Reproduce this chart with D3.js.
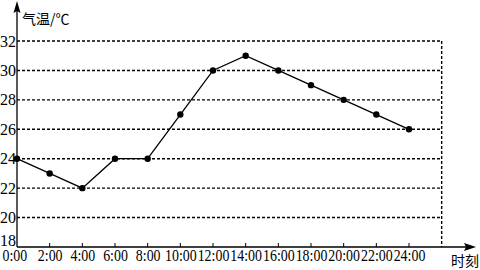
<!DOCTYPE html>
<html>
<head>
<meta charset="utf-8">
<script src="https://cdnjs.cloudflare.com/ajax/libs/d3/7.8.5/d3.min.js"></script>
<style>
  body { margin: 0; background: #fff; }
  svg { display: block; }
</style>
</head>
<body>
<div id="chart"></div>
<script>
var width = 480;
var height = 270;

// hours of the day and temperature readings
var hours = [0, 2, 4, 6, 8, 10, 12, 14, 16, 18, 20, 22, 24];
var temps = [24, 23, 22, 24, 24, 27, 30, 31, 30, 29, 28, 27, 26];
var xTickLabels = ["0:00", "2:00", "4:00", "6:00", "8:00", "10:00", "12:00", "14:00", "16:00", "18:00", "20:00", "22:00", "24:00"];
var yTicks = [18, 20, 22, 24, 26, 28, 30, 32];

var serif = "'Liberation Serif', 'Times New Roman', 'DejaVu Serif', serif";

var svg = d3.select("#chart")
    .append("svg")
    .attr("width", width)
    .attr("height", height);

var x = d3.scaleLinear().domain([0, 24]).range([17, 409]);
var y = d3.scaleLinear().domain([18, 32]).range([247, 41]);

/***** Grid lines *****/
var grid = svg.append("g");
grid.selectAll("line.h")
  .data(yTicks.slice(1))
  .enter().append("line")
    .attr("class", "h")
    .attr("x1", x(0))
    .attr("x2", x(26))
    .attr("y1", d => y(d))
    .attr("y2", d => y(d))
    .attr("stroke", "#000")
    .attr("stroke-width", 1.4)
    .attr("stroke-dasharray", "3,2");

grid.append("line")
    .attr("x1", x(26)).attr("x2", x(26))
    .attr("y1", y(32)).attr("y2", y(18))
    .attr("stroke", "#000")
    .attr("stroke-width", 1.4)
    .attr("stroke-dasharray", "3,2");

/***** Axes *****/
var xAxis = d3.axisBottom(x)
    .tickValues(hours)
    .tickFormat((d, i) => xTickLabels[i])
    .tickSize(0)
    .tickPadding(3);
var xAxisGroup = svg.append("g")
    .attr("transform", "translate(0," + y(18) + ")");
xAxis(xAxisGroup);
xAxisGroup.attr("font-family", serif).attr("font-size", 16);
xAxisGroup.select(".domain").remove();
// labels are set narrow, like the original
xAxisGroup.selectAll(".tick text")
    .attr("fill", "#000")
    .attr("transform", "scale(0.87,1)");
xAxisGroup.selectAll(".tick").filter(d => d === 0).select("text").attr("x", -3);

// small upward tick marks
svg.append("g").selectAll("line")
  .data(hours.slice(1))
  .enter().append("line")
    .attr("x1", d => x(d)).attr("x2", d => x(d))
    .attr("y1", y(18)).attr("y2", y(18) - 4)
    .attr("stroke", "#000")
    .attr("stroke-width", 1);

var yAxis = d3.axisLeft(y)
    .tickValues(yTicks)
    .tickSize(0)
    .tickPadding(1);
var yAxisGroup = svg.append("g")
    .attr("transform", "translate(" + x(0) + ",0)");
yAxis(yAxisGroup);
yAxisGroup.attr("font-family", serif).attr("font-size", 16);
yAxisGroup.select(".domain").remove();
yAxisGroup.selectAll(".tick text").attr("fill", "#000");
yAxisGroup.selectAll(".tick").filter(d => d === 18).select("text").attr("dy", "-0.1em");

// axis lines with arrows
svg.append("line")
    .attr("x1", x(0)).attr("x2", 470)
    .attr("y1", y(18)).attr("y2", y(18))
    .attr("stroke", "#000").attr("stroke-width", 1.3);
svg.append("path")
    .attr("d", "M476," + y(18) + "L464," + (y(18) - 4) + "L466," + y(18) + "L464," + (y(18) + 4) + "Z")
    .attr("fill", "#000");

svg.append("line")
    .attr("x1", x(0)).attr("x2", x(0))
    .attr("y1", y(18)).attr("y2", 8)
    .attr("stroke", "#000").attr("stroke-width", 1.3);
svg.append("path")
    .attr("d", "M" + x(0) + ",1L" + (x(0) - 3.5) + ",13L" + x(0) + ",11L" + (x(0) + 3.5) + ",13Z")
    .attr("fill", "#000");

/***** Axis titles *****/
svg.append("text")
    .attr("x", 22).attr("y", 24)
    .attr("font-family", "'Noto Sans CJK SC', sans-serif")
    .attr("font-size", 14)
    .text("气温/℃");

svg.append("text")
    .attr("x", 451).attr("y", 266)
    .attr("font-family", "'Noto Sans CJK SC', sans-serif")
    .attr("font-size", 14)
    .text("时刻");

/***** Line and points *****/
var data = hours.map((h, i) => ({h: h, t: temps[i]}));

svg.append("path")
    .datum(data)
    .attr("fill", "none")
    .attr("stroke", "#000")
    .attr("stroke-width", 1.3)
    .attr("d", d3.line().x(d => x(d.h)).y(d => y(d.t)));

svg.append("g").selectAll("circle")
  .data(data)
  .enter().append("circle")
    .attr("cx", d => x(d.h))
    .attr("cy", d => y(d.t))
    .attr("r", 3.2)
    .attr("fill", "#000");
</script>
</body>
</html>
